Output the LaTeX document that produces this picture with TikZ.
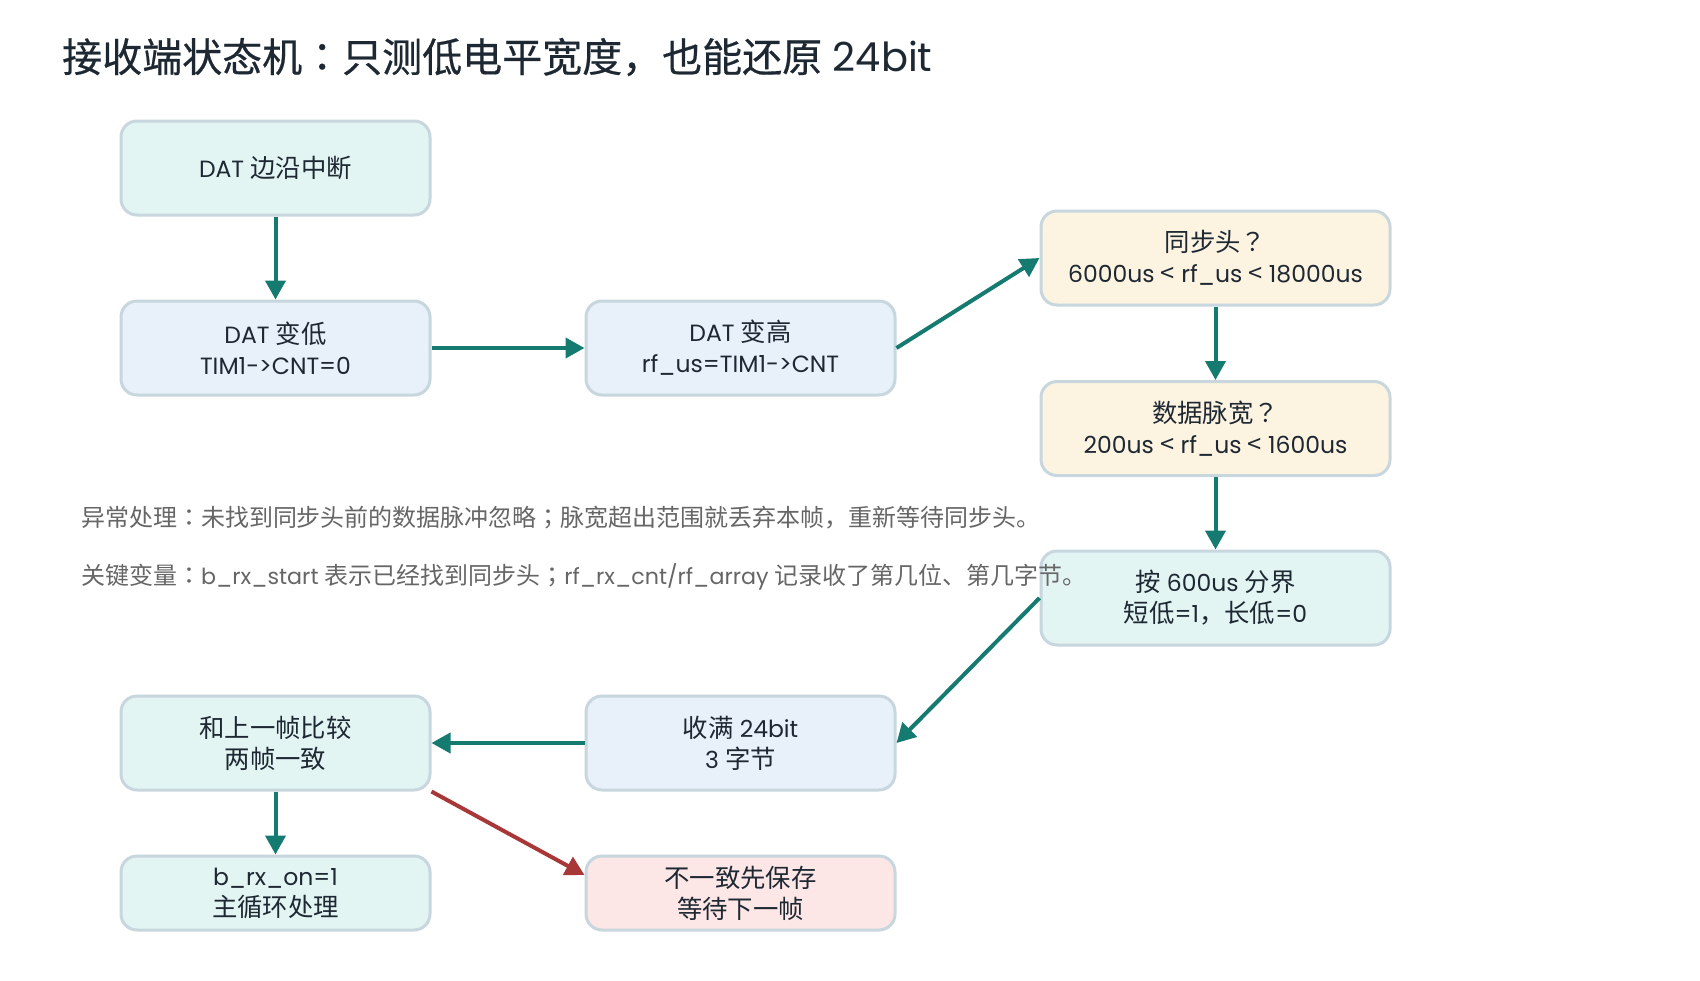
\documentclass[tikz,border=0pt]{standalone}
\usepackage{fontspec}
\setmainfont{Poppins}
\newfontfamily\cjk{Noto Sans CJK SC}[Scale=1.08]
\newfontfamily\cjkjp{Noto Sans CJK JP}[Scale=1.08]
\newfontfamily\cjkt{Noto Sans CJK SC}[FakeBold=0.5]
\newfontfamily\cjktjp{Noto Sans CJK JP}[FakeBold=0.5]
\newcommand\zh[1]{{\cjk #1}}
\newcommand\zp[1]{{\cjkjp #1}}
\usetikzlibrary{arrows.meta}
\definecolor{teal1}{HTML}{157A6F}
\definecolor{red1}{HTML}{A83838}
\definecolor{bord}{HTML}{C8D6DE}
\definecolor{fteal}{HTML}{E3F5F3}
\definecolor{fblue}{HTML}{E8F0F9}
\definecolor{fcream}{HTML}{FCF3E0}
\definecolor{fpink}{HTML}{FCE6E6}
\definecolor{txt}{HTML}{1E2833}
\definecolor{note}{HTML}{666666}
\tikzset{
  box/.style={draw=bord, line width=3pt, rounded corners=16pt, minimum width=309pt,
    minimum height=94pt, align=center, text=txt, font=\fontsize{23.5}{31}\selectfont, inner sep=0pt},
  widebox/.style={box, minimum width=349pt},
  smallbox/.style={box, minimum height=74pt},
  arr/.style={draw=teal1, line width=4pt, -{Triangle[length=19pt,width=20pt]}},
  rarr/.style={draw=red1, line width=4pt, -{Triangle[length=19pt,width=20pt]}},
  notes/.style={anchor=west, text=note, font=\fontsize{22.2}{24}\selectfont, inner sep=0pt}
}
\begin{document}
\begin{tikzpicture}[x=1pt,y=-1pt]
\useasboundingbox[fill=white] (0,0) rectangle (1700,980);
\node[anchor=west, text=txt, inner sep=0pt, font=\fontsize{40}{42}\selectfont] (title) at (62,57)
  {{\cjkt 接收端状态机}{\cjktjp ：}{\cjkt 只测低电平宽度}{\cjktjp ，}{\cjkt 也能还原} 24bit};
\node[box, fill=fteal] (A) at (275.5,168) {DAT \zh{边沿中断}};
\node[box, fill=fblue] (B) at (275.5,348) {DAT \zh{变低}\\TIM1->CNT=0};
\node[box, fill=fblue] (C) at (740.5,348) {DAT \zh{变高}\\rf\_us=TIM1->CNT};
\node[widebox, fill=fcream] (D) at (1215.5,258) {\zh{同步头}\zp{？}\\6000us \zh{<} rf\_us \zh{<} 18000us};
\node[widebox, fill=fcream] (E) at (1215.5,428.5) {\zh{数据脉宽}\zp{？}\\200us \zh{<} rf\_us \zh{<} 1600us};
\node[widebox, fill=fteal] (F) at (1215.5,598) {\zh{按} 600us \zh{分界}\\\zh{短低}=1\zp{，}\zh{长低}=0};
\node[box, fill=fteal] (G) at (275.5,743) {\zh{和上一帧比较}\\\zh{两帧一致}};
\node[box, fill=fblue] (H) at (740.5,743) {\zh{收满} 24bit\\3 \zh{字节}};
\node[smallbox, fill=fteal] (I) at (275.5,893) {b\_rx\_on=1\\\zh{主循环处理}};
\node[smallbox, fill=fpink] (J) at (740.5,893) {\zh{不一致先保存}\\\zh{等待下一帧}};
\node[notes] (n1) at (81,518) {\zh{异常处理}\zp{：}\zh{未找到同步头前的数据脉冲忽略}\zp{；}\zh{脉宽超出范围就丢弃本帧}\zp{，}\zh{重新等待同步头}\zp{。}};
\node[notes] (n2) at (81,577) {\zh{关键变量}\zp{：}b\_rx\_start \zh{表示已经找到同步头}\zp{；}rf\_rx\_cnt/rf\_array \zh{记录收了第几位}\zp{、}\zh{第几字节}\zp{。}};
\draw[arr] (A) -- (B);
\draw[arr] (B) -- (C);
\draw[arr] (C.east) -- (D.west);
\draw[arr] (D) -- (E);
\draw[arr] (E) -- (F);
\draw[arr] (F.west) -- (H.east);
\draw[arr] (H) -- (G);
\draw[arr] (G) -- (I);
\draw[rarr] (G.south east) -- ([yshift=18pt]J.west);
\end{tikzpicture}
\end{document}
